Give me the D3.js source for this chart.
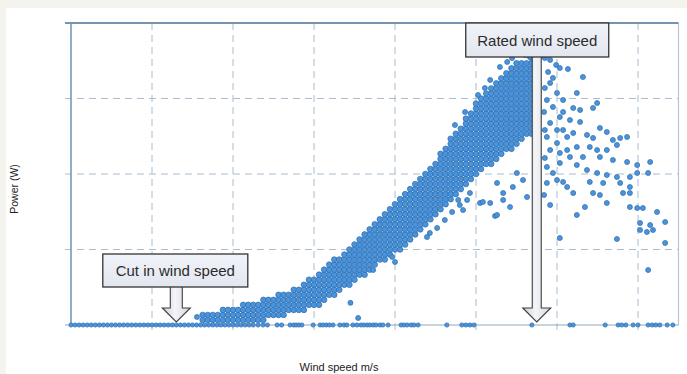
<!DOCTYPE html>
<html><head><meta charset="utf-8">
<script src="https://cdn.jsdelivr.net/npm/d3@7/dist/d3.min.js"></script>
<style>
html,body{margin:0;padding:0;background:#f4f3ee;}
svg{display:block;}
</style></head><body>
<svg id="c" width="687" height="374"></svg>
<script>
// ---- data (wind speed in m/s, power in W) ----
const gridSpeeds = [2,4,6,8,10,12,14];
const gridPowers = [750,1500,2250];
const cutInSpeed = 2.6;
const ratedSpeed = 11.5;
const xLabel = "Wind speed m/s";
const yLabel = "Power (W)";
const cutInLabel = "Cut in wind speed";
const ratedLabel = "Rated wind speed";

// readings at zero power
const zeroSpeeds = [0,0.1,0.2,0.3,0.4,0.5,0.6,0.7,0.8,0.9,1.0,1.1,1.2,1.3,1.4,1.5,1.6,1.7,1.8,1.9,2.0,2.1,2.2,2.3,2.4,2.5,2.6,2.7,2.8,2.9,3.0,3.1,3.2,3.3,3.4,3.5,3.6,3.7,3.8,3.9,4.0,4.1,4.2,4.3,4.4,4.5,
 4.62,4.74,4.85,5.09,5.2,5.41,5.5,5.56,5.63,5.7,5.98,6.15,6.22,6.3,6.38,6.47,6.64,6.74,6.81,6.96,7.06,7.16,7.23,7.31,7.38,7.46,7.53,7.63,7.7,7.83,
 8.15,8.22,8.3,8.4,8.47,8.57,9.28,9.65,9.75,9.85,9.95,11.38,12.32,12.4,13.19,13.51,13.6,13.7,13.88,14.0,14.25,14.35,14.44,14.54,14.72,14.86];

// dense band of readings: wind speed bins and the powers recorded in each bin
const bandSpeeds = [3.25,3.375,3.5,3.625,3.75,3.875,4.0,4.125,4.25,4.375,4.5,4.625,4.75,4.875,5.0,5.125,5.25,5.375,5.5,5.625,5.75,5.875,6.0,6.125,6.25,6.375,6.5,6.625,6.75,6.875,7.0,7.125,7.25,7.375,7.5,7.625,7.75,7.875,8.0,8.125,8.25,8.375,8.5,8.625,8.75,8.875,9.0,9.125,9.25,9.375,9.5,9.625,9.75,9.875,10.0,10.125,10.25,10.375,10.5,10.625,10.75,10.875,11.0,11.125,11.25,11.375];
const bandPowers = [
 [50,100],
 [50,100],
 [50,100],
 [50,100],
 [50,100,150],
 [50,100,150],
 [50,100,150],
 [50,100,150],
 [50,100,150,200],
 [50,100,150,200],
 [50,100,150,200],
 [50,100,150,200],
 [50,100,150,200,250],
 [100,150,200,250],
 [100,150,200,250],
 [100,150,200,250,300],
 [100,150,200,250,300],
 [150,200,250,300],
 [150,200,250,300,350],
 [150,200,250,300,350],
 [150,200,250,300,350,400],
 [200,250,300,350,400,450],
 [200,250,300,350,400,450],
 [200,250,300,350,400,450,500],
 [250,300,350,400,450,500,550],
 [300,350,400,450,500,550,600],
 [300,350,400,450,500,550,600,650],
 [350,400,450,500,550,600,650],
 [400,450,500,550,600,650,700],
 [400,450,500,550,600,650,700,750],
 [450,500,550,600,650,700,750,800],
 [500,550,600,650,700,750,800,850],
 [500,550,600,650,700,750,800,850,900],
 [550,600,650,700,750,800,850,900,950],
 [600,650,700,750,800,850,900,950,1000],
 [650,700,750,800,850,900,950,1000,1050],
 [650,700,750,800,850,900,950,1000,1050,1100],
 [700,750,800,850,900,950,1000,1050,1100,1150],
 [750,800,850,900,950,1000,1050,1100,1150,1200],
 [750,800,850,900,950,1000,1050,1100,1150,1200,1250],
 [800,850,900,950,1000,1050,1100,1150,1200,1250,1300],
 [850,900,950,1000,1050,1100,1150,1200,1250,1300,1350],
 [900,950,1000,1050,1100,1150,1200,1250,1300,1350,1400],
 [950,1000,1050,1100,1150,1200,1250,1300,1350,1400,1450],
 [1000,1050,1100,1150,1200,1250,1300,1350,1400,1450,1500],
 [1050,1100,1150,1200,1250,1300,1350,1400,1450,1500,1550],
 [1100,1150,1200,1250,1300,1350,1400,1450,1500,1550,1600],
 [1150,1200,1250,1300,1350,1400,1450,1500,1550,1600,1650,1700],
 [1200,1250,1300,1350,1400,1450,1500,1550,1600,1650,1700,1750],
 [1250,1300,1350,1400,1450,1500,1550,1600,1650,1700,1750,1800,1850],
 [1300,1350,1400,1450,1500,1550,1600,1650,1700,1750,1800,1850,1900],
 [1350,1400,1450,1500,1550,1600,1650,1700,1750,1800,1850,1900,1950],
 [1400,1450,1500,1550,1600,1650,1700,1750,1800,1850,1900,1950,2000,2050],
 [1450,1500,1550,1600,1650,1700,1750,1800,1850,1900,1950,2000,2050,2100],
 [1500,1550,1600,1650,1700,1750,1800,1850,1900,1950,2000,2050,2100,2150,2200],
 [1550,1600,1650,1700,1750,1800,1850,1900,1950,2000,2050,2100,2150,2200,2250],
 [1600,1650,1700,1750,1800,1850,1900,1950,2000,2050,2100,2150,2200,2250,2300],
 [1600,1650,1700,1750,1800,1850,1900,1950,2000,2050,2100,2150,2200,2250,2300,2350],
 [1650,1700,1750,1800,1850,1900,1950,2000,2050,2100,2150,2200,2250,2300,2350,2400],
 [1700,1750,1800,1850,1900,1950,2000,2050,2100,2150,2200,2250,2300,2350,2400,2450],
 [1750,1800,1850,1900,1950,2000,2050,2100,2150,2200,2250,2300,2350,2400,2450,2500],
 [1750,1800,1850,1900,1950,2000,2050,2100,2150,2200,2250,2300,2350,2400,2450,2500,2550],
 [1800,1850,1900,1950,2000,2050,2100,2150,2200,2250,2300,2350,2400,2450,2500,2550,2600],
 [1850,1900,1950,2000,2050,2100,2150,2200,2250,2300,2350,2400,2450,2500,2550,2600],
 [1900,1950,2000,2050,2100,2150,2200,2250,2300,2350,2400,2450,2500,2550,2600],
 [1900,1950,2000,2050,2100,2150,2200,2250,2300,2350,2400,2450,2500,2550,2600,2650]
];

// scattered readings outside the dense band: [wind speed, power]
const scattered = [
 [3.11,80],[6.9,220],[7.09,70],[7.46,546],[7.93,676],[8.0,626],[8.79,874],[8.86,914],[9.04,964],[9.23,1043],[9.41,1123],[9.6,1192],
 [9.56,1242],[9.68,1142],[9.78,1242],[9.85,1311],[10.1,1212],[10.17,1222],[10.35,1212],[10.47,1083],[10.52,1093],[10.52,1411],
 [10.67,1242],[10.67,1311],[10.84,1172],[10.91,1371],[11.01,1510],[11.16,1440],[11.26,1272],
 [9.48,1987],[9.73,2116],[10.05,2285],[10.22,2354],[10.35,2434],[10.59,2563],[10.77,2613],[10.89,2652],[11.21,2682],[11.33,2662],
 [11.7,2652],[11.83,2633],[11.98,2583],[12.07,2553],[11.78,2513],[11.9,2454],[11.83,2404],[11.7,2354],[12.0,2305],[11.75,2235],
 [12.15,2235],[11.9,2166],[11.68,2116],[12.15,2116],[12.07,2066],[11.83,2007],[11.7,1937],[12.0,1937],[11.75,1868],[12.25,1868],
 [12.0,1808],[11.83,1738],[12.25,1738],[12.07,1709],[11.7,1659],[11.75,1570],[11.9,1510],[12.0,1440],[11.75,1411],[12.25,1371],
 [11.68,1291],[11.83,1192],
 [12.27,2543],[12.64,2464],[12.49,2305],[12.99,2205],[12.4,2156],[12.57,2136],[12.89,2156],[12.32,2036],[12.57,2017],[13.06,1957],
 [12.15,1937],[12.4,1907],[12.74,1888],[12.89,1858],[13.23,1917],[13.38,1838],[13.56,1858],[13.73,1868],[12.49,1768],[12.81,1768],
 [12.99,1738],[13.23,1738],[13.48,1788],[12.32,1669],[12.64,1669],[13.06,1669],[13.38,1639],[13.73,1619],[13.98,1589],[14.3,1619],
 [12.07,1609],[12.49,1589],[12.74,1540],[12.99,1510],[13.23,1490],[13.48,1470],[13.8,1470],[13.98,1510],[14.25,1510],[12.15,1421],
 [12.81,1421],[13.14,1411],[13.56,1411],[13.8,1371],[12.4,1311],[12.89,1311],[13.06,1291],[13.63,1311],[13.8,1311],[13.23,1212],
 [12.69,1172],[13.8,1172],[13.98,1162],[14.12,1162],[14.47,1123],[12.49,1093],[14.05,1013],[14.3,993],[14.67,1023],[14.05,944],
 [14.22,924],[14.37,944],[12.07,864],[13.48,854],[14.67,815],[14.25,546]
];

// ---- drawing ----
const W = 687, H = 374;
const svg = d3.select("#c");
svg.append("rect").attr("x",6).attr("y",8).attr("width",W-6).attr("height",H-8).attr("fill","#ffffff");

const x = d3.scaleLinear().domain([0,15]).range([71,678.5]);
const y = d3.scaleLinear().domain([0,3000]).range([325,23]);

const defs = svg.append("defs");
const g1 = defs.append("linearGradient").attr("id","boxg").attr("x1",0).attr("y1",0).attr("x2",0).attr("y2",1);
g1.append("stop").attr("offset","0%").attr("stop-color","#f1f3f9");
g1.append("stop").attr("offset","100%").attr("stop-color","#e2e6ef");
const g2 = defs.append("linearGradient").attr("id","arrg").attr("x1",0).attr("y1",0).attr("x2",1).attr("y2",0);
g2.append("stop").attr("offset","0%").attr("stop-color","#c9ccd2");
g2.append("stop").attr("offset","45%").attr("stop-color","#f4f5f8");
g2.append("stop").attr("offset","100%").attr("stop-color","#d4d7dd");

// grid
const grid = svg.append("g");
grid.selectAll(".vg").data(gridSpeeds).join("line")
  .attr("x1",d=>x(d)).attr("x2",d=>x(d)).attr("y1",y(3000)).attr("y2",y(0)+5)
  .attr("stroke","#a9bccd").attr("stroke-width",1).attr("stroke-dasharray","7,5");
grid.selectAll(".hg").data(gridPowers).join("line")
  .attr("x1",x(0)-6).attr("x2",x(15)).attr("y1",d=>y(d)).attr("y2",d=>y(d))
  .attr("stroke","#a9bccd").attr("stroke-width",1).attr("stroke-dasharray","7,5");

// frame
svg.append("line").attr("x1",x(15)).attr("x2",x(15)).attr("y1",y(3000)).attr("y2",y(0))
  .attr("stroke","#b3c6d6").attr("stroke-width",1.2);
svg.append("line").attr("x1",x(0)-6).attr("x2",x(15)).attr("y1",y(0)).attr("y2",y(0))
  .attr("stroke","#8ea9c0").attr("stroke-width",1.2);
svg.append("line").attr("x1",x(0)).attr("x2",x(0)).attr("y1",y(3000)).attr("y2",y(0))
  .attr("stroke","#87a6bf").attr("stroke-width",1.8);
svg.append("line").attr("x1",x(0)-6).attr("x2",x(15)).attr("y1",y(3000)).attr("y2",y(3000))
  .attr("stroke","#7694ad").attr("stroke-width",2.2);

// points
const pts = [];
zeroSpeeds.forEach(s => pts.push({s:s,p:0,r:2.1}));
bandSpeeds.forEach((s,i) => bandPowers[i].forEach(p => pts.push({s:s,p:p,r:2.8})));
scattered.forEach(d => pts.push({s:d[0],p:d[1],r:2.5}));
svg.append("g").selectAll("circle").data(pts).join("circle")
  .attr("cx",d=>x(d.s)).attr("cy",d=>y(d.p)).attr("r",d=>d.r)
  .attr("fill","#4c94da").attr("stroke","#2f6fb2").attr("stroke-width",0.75);

// annotations
function arrow(cx, yTop, yHeadStart, yTip, shaftHalf, headHalf){
  const p = d3.path();
  p.moveTo(cx-shaftHalf, yTop);
  p.lineTo(cx+shaftHalf, yTop);
  p.lineTo(cx+shaftHalf, yHeadStart);
  p.lineTo(cx+headHalf, yHeadStart);
  p.lineTo(cx, yTip);
  p.lineTo(cx-headHalf, yHeadStart);
  p.lineTo(cx-shaftHalf, yHeadStart);
  p.closePath();
  svg.append("path").attr("d",p.toString()).attr("fill","url(#arrg)")
    .attr("stroke","#3f3f3f").attr("stroke-width",1.1).attr("stroke-linejoin","miter");
}
function box(cx, yTop, w, h, label){
  svg.append("rect").attr("x",cx-w/2).attr("y",yTop).attr("width",w).attr("height",h)
    .attr("fill","url(#boxg)").attr("stroke","#333").attr("stroke-width",1.3);
  svg.append("text").attr("x",cx).attr("y",yTop+h/2+5.5).attr("text-anchor","middle")
    .attr("font-family","Liberation Sans, Arial, sans-serif").attr("font-size",15)
    .attr("fill","#2b2b2b").text(label);
}
const xr = x(ratedSpeed), xc = x(cutInSpeed);
arrow(xr, 56, 308, 322, 4.5, 14);
box(xr+0.5, 23, 143, 34, ratedLabel);
arrow(xc, 286, 308, 322, 6, 14);
box(xc-1, 254, 145, 33, cutInLabel);

// axis titles
svg.append("text").attr("x",339).attr("y",371).attr("text-anchor","middle")
  .attr("font-family","Liberation Sans, Arial, sans-serif").attr("font-size",11).attr("fill","#222").text(xLabel);
svg.append("text").attr("transform","translate(18,189) rotate(-90)").attr("text-anchor","middle")
  .attr("font-family","Liberation Sans, Arial, sans-serif").attr("font-size",10.5).attr("fill","#222").text(yLabel);
</script>
</body></html>
